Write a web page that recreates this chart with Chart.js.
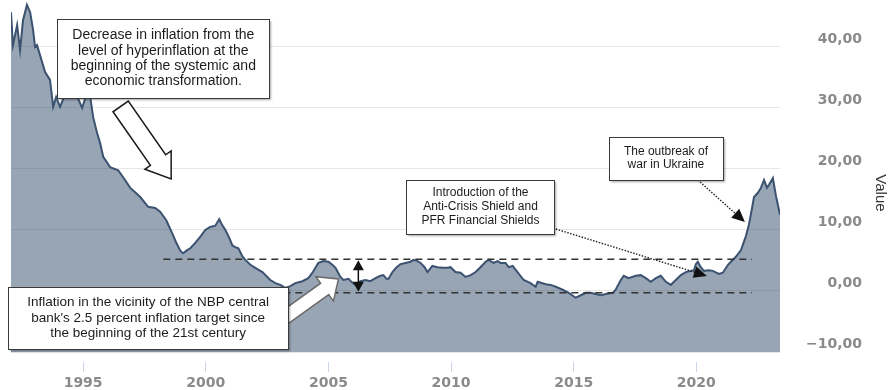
<!DOCTYPE html>
<html>
<head>
<meta charset="utf-8">
<title>Inflation in Poland</title>
<script src="https://cdn.jsdelivr.net/npm/chart.js@4.4.0/dist/chart.umd.min.js"></script>
<style>
  html, body { margin: 0; padding: 0; background: #fff; }
  #wrap { width: 888px; height: 390px; }
</style>
</head>
<body>
<div id="wrap"><canvas id="cpiChart" width="888" height="390"></canvas></div>
<script>
/* global Chart */

// CPI y/y (%): decimal year -> value
const years = [
  1992.06, 1992.14, 1992.31, 1992.43, 1992.55, 1992.71, 1992.84, 1992.96,
  1993.04, 1993.12, 1993.24, 1993.45, 1993.65, 1993.78, 1993.90,
  1994.06, 1994.22, 1994.47, 1994.71, 1994.96,
  1995.12, 1995.29, 1995.41, 1995.57, 1995.69, 1995.82,
  1996.10, 1996.43, 1996.71, 1996.92,
  1997.12, 1997.33, 1997.65, 1997.94,
  1998.14, 1998.39, 1998.63, 1998.80, 1998.96,
  1999.08, 1999.24, 1999.37, 1999.57, 1999.78, 1999.98,
  2000.18, 2000.39, 2000.55, 2000.67, 2000.80, 2000.96,
  2001.08, 2001.20, 2001.33, 2001.49, 2001.61, 2001.82,
  2002.02, 2002.31, 2002.63, 2002.84,
  2003.04, 2003.24, 2003.45, 2003.65, 2003.94,
  2004.18, 2004.35, 2004.47, 2004.59, 2004.80,
  2005.00, 2005.16, 2005.29, 2005.49, 2005.61, 2005.82, 2005.94,
  2006.10, 2006.31, 2006.51, 2006.71, 2006.92,
  2007.12, 2007.24, 2007.37, 2007.45, 2007.61, 2007.78, 2007.94,
  2008.14, 2008.35, 2008.47, 2008.63, 2008.76, 2008.92,
  2009.04, 2009.24, 2009.45, 2009.65, 2009.86, 2009.98,
  2010.18, 2010.39, 2010.59, 2010.80,
  2011.00, 2011.20, 2011.41, 2011.53, 2011.73, 2011.90,
  2012.02, 2012.22, 2012.35, 2012.51, 2012.71, 2012.96,
  2013.24, 2013.45, 2013.53, 2013.86,
  2014.06, 2014.27, 2014.55, 2014.80,
  2015.08, 2015.29, 2015.49, 2015.69,
  2016.10, 2016.31, 2016.59, 2016.71, 2016.92,
  2017.04, 2017.24, 2017.53, 2017.73, 2017.94,
  2018.14, 2018.35, 2018.55, 2018.76, 2018.96,
  2019.16, 2019.37, 2019.57, 2019.78, 2019.90, 2019.98,
  2020.06, 2020.18, 2020.31, 2020.51, 2020.67, 2020.92,
  2021.08, 2021.29, 2021.41, 2021.61, 2021.82,
  2022.02, 2022.14, 2022.27, 2022.35, 2022.51, 2022.63, 2022.76, 2022.88, 2022.96,
  2023.12, 2023.24, 2023.41
];

const cpi = [
  45.7, 40.3, 43.6, 39.5, 44.4, 46.9, 45.7, 42.8,
  40.0, 40.3, 38.7, 35.9, 34.6, 30.2, 31.8,
  30.2, 31.8, 32.1, 32.3, 30.0,
  32.0, 31.8, 28.5, 25.9, 24.3, 22.0,
  20.3, 19.8, 18.2, 16.9,
  16.2, 15.4, 13.8, 13.6,
  13.0, 11.6, 9.5, 7.9, 6.6,
  6.2, 6.7, 7.0, 7.9, 8.9, 10.0,
  10.5, 10.7, 11.8, 10.8, 10.0, 8.7,
  7.5, 7.2, 7.0, 5.7, 5.1, 4.3,
  3.8, 3.1, 1.8, 1.3,
  1.0, 0.5, 0.8, 1.3, 1.6,
  2.1, 3.0, 3.8, 4.6, 4.9,
  4.8, 4.3, 3.8, 2.3, 1.8, 2.0, 1.5,
  1.0, 1.6, 1.8, 1.6, 2.1,
  2.5, 2.6, 2.0, 2.0, 3.1, 3.9, 4.4,
  4.6, 4.8, 5.1, 4.9, 4.6, 3.9,
  3.1, 4.1, 3.9, 3.8, 3.8, 3.9,
  3.1, 3.0, 2.3, 2.6,
  3.1, 3.9, 4.8, 5.1, 4.6, 4.9,
  4.6, 4.6, 3.9, 4.1, 3.1, 1.8,
  1.3, 0.7, 1.5, 1.1,
  1.0, 0.7, 0.2, -0.3,
  -1.1, -0.7, -0.3, -0.3,
  -0.7, -0.5, -0.3, 0.2, 1.8,
  2.5, 2.1, 2.5, 2.6, 2.1,
  1.5, 2.1, 2.5, 1.5, 1.0,
  1.8, 2.6, 3.1, 3.3, 3.4, 4.4,
  4.8, 3.9, 3.3, 3.4, 3.3, 2.8,
  3.0, 4.3, 4.8, 5.6, 6.7,
  9.0, 10.8, 13.6, 15.4, 16.1, 16.9, 18.2, 16.9, 17.4,
  18.5, 15.7, 12.5
];

// dashed band around the NBP target
const bandYears = [1998.27, 2022.27];
const bandUpper = 5.2;
const bandLower = -0.3;
const bandArrowYear = 2006.22;

const xTicks = [1995, 2000, 2005, 2010, 2015, 2020];
const yTicks = [-10, 0, 10, 20, 30, 40];
const xRange = [1992.06, 2023.41];
const yRange = [-10, 47.7];

// annotation boxes, anchored in data coordinates (year, value)
const notes = [
  { at: [1998.27, 38.1], w: 212, h: 79, size: 14, lh: 15.3,
    lines: ["Decrease in inflation from the", "level of hyperinflation at the",
            "beginning of the systemic and", "economic transformation."] },
  { at: [1997.65, -4.43], w: 280, h: 62, size: 13.5, lh: 15.5,
    lines: ["Inflation in the vicinity of the NBP central",
            "bank's 2.5 percent inflation target since",
            "the beginning of the 21st century"] },
  { at: [2011.20, 13.77], w: 148, h: 54, size: 12, lh: 14,
    lines: ["Introduction of the", "Anti-Crisis Shield and", "PFR Financial Shields"] },
  { at: [2018.76, 21.72], w: 114, h: 43, size: 12, lh: 13,
    lines: ["The outbreak of", "war in Ukraine"] }
];

(() => {
  "use strict";

  const tickFont = { family: "'DejaVu Sans', sans-serif", weight: "bold", size: 14 };
  const tickColor = "#8a8a8a";
  const boxFont = "'Liberation Sans', Arial, sans-serif";

  const fmt = (v) => v.toFixed(2).replace(".", ",").replace("-", "\u2212");

  const toPx = (chart, x, y) => ({
    x: chart.scales.x.getPixelForValue(x),
    y: chart.scales.y.getPixelForValue(y),
  });

  // big outlined block arrow
  const blockArrow = (ctx, a, b, shaft, head, headLen, stroke) => {
    const dx = b.x - a.x, dy = b.y - a.y;
    const len = Math.hypot(dx, dy);
    const ux = dx / len, uy = dy / len;
    const nx = -uy, ny = ux;
    const bx = b.x - ux * headLen, by = b.y - uy * headLen;
    const pts = [
      [a.x + nx * shaft, a.y + ny * shaft],
      [bx + nx * shaft, by + ny * shaft],
      [bx + nx * head, by + ny * head],
      [b.x, b.y],
      [bx - nx * head, by - ny * head],
      [bx - nx * shaft, by - ny * shaft],
      [a.x - nx * shaft, a.y - ny * shaft],
    ];
    ctx.beginPath();
    pts.forEach(([x, y], i) => (i ? ctx.lineTo(x, y) : ctx.moveTo(x, y)));
    ctx.closePath();
    ctx.fillStyle = "#fff";
    ctx.fill();
    ctx.lineWidth = 1.5;
    ctx.strokeStyle = stroke;
    ctx.stroke();
  };

  const headAt = (ctx, tip, ux, uy, len, half) => {
    const bx = tip.x - ux * len, by = tip.y - uy * len;
    ctx.beginPath();
    ctx.moveTo(tip.x, tip.y);
    ctx.lineTo(bx - uy * half, by + ux * half);
    ctx.lineTo(bx + uy * half, by - ux * half);
    ctx.closePath();
    ctx.fill();
  };

  // thin dotted pointer with a filled head
  const dottedArrow = (ctx, a, b) => {
    const dx = b.x - a.x, dy = b.y - a.y;
    const len = Math.hypot(dx, dy);
    const ux = dx / len, uy = dy / len;
    ctx.save();
    ctx.strokeStyle = "#222";
    ctx.fillStyle = "#111";
    ctx.lineWidth = 1.4;
    ctx.setLineDash([1.5, 1.5]);
    ctx.beginPath();
    ctx.moveTo(a.x, a.y);
    ctx.lineTo(b.x - ux * 10, b.y - uy * 10);
    ctx.stroke();
    ctx.setLineDash([]);
    headAt(ctx, b, ux, uy, 13, 6);
    ctx.restore();
  };

  const noteBox = (ctx, c, n) => {
    const x = Math.round(c.x - n.w / 2) + 0.5;
    const y = Math.round(c.y - n.h / 2) + 0.5;
    ctx.save();
    ctx.shadowColor = "rgba(0,0,0,0.35)";
    ctx.shadowOffsetX = 1.5;
    ctx.shadowOffsetY = 1.5;
    ctx.shadowBlur = 2;
    ctx.fillStyle = "#fff";
    ctx.fillRect(x, y, n.w, n.h);
    ctx.restore();
    ctx.strokeStyle = "#3a3a3a";
    ctx.lineWidth = 1;
    ctx.strokeRect(x, y, n.w, n.h);
    ctx.fillStyle = "#1c1c1c";
    ctx.font = `${n.size}px ${boxFont}`;
    ctx.textAlign = "center";
    ctx.textBaseline = "middle";
    const top = c.y - ((n.lines.length - 1) * n.lh) / 2;
    n.lines.forEach((t, i) => ctx.fillText(t, c.x, top + i * n.lh));
  };

  const annotations = {
    id: "annotations",
    afterDatasetsDraw(chart) {
      const ctx = chart.ctx;
      ctx.save();

      // double arrow across the band
      const up = toPx(chart, bandArrowYear, bandUpper);
      const lo = toPx(chart, bandArrowYear, bandLower);
      ctx.strokeStyle = "#111";
      ctx.fillStyle = "#111";
      ctx.lineWidth = 1.5;
      ctx.beginPath();
      ctx.moveTo(up.x, up.y + 8);
      ctx.lineTo(lo.x, lo.y - 8);
      ctx.stroke();
      headAt(ctx, { x: up.x, y: up.y + 1 }, 0, -1, 10, 5.5);
      headAt(ctx, { x: lo.x, y: lo.y - 1 }, 0, 1, 10, 5.5);

      // block arrows
      blockArrow(ctx, toPx(chart, 1996.53, 30.25), toPx(chart, 1998.59, 18.36), 9.3, 16, 23, "#1a1a1a");
      blockArrow(ctx, toPx(chart, 2003.0, -5.0), toPx(chart, 2005.41, 1.97), 7, 15, 17, "#6b6b6b");

      // dotted pointers
      dottedArrow(ctx, toPx(chart, 2014.27, 10.16), toPx(chart, 2020.43, 2.46));
      dottedArrow(ctx, toPx(chart, 2020.06, 18.2), toPx(chart, 2021.98, 11.31));

      notes.forEach((n) => noteBox(ctx, toPx(chart, n.at[0], n.at[1]), n));

      // axis title on the right
      ctx.save();
      ctx.translate(chart.width - 8, 193);
      ctx.rotate(Math.PI / 2);
      ctx.font = `15px ${boxFont}`;
      ctx.fillStyle = "#333";
      ctx.textAlign = "center";
      ctx.textBaseline = "middle";
      ctx.fillText("Value", 0, 0);
      ctx.restore();

      ctx.restore();
    },
  };

  const bandLine = (v) => ({
    data: bandYears.map((x) => ({ x, y: v })),
    borderColor: "#333",
    borderWidth: 1.6,
    borderDash: [7, 5],
    pointRadius: 0,
    fill: false,
    order: 0,
  });

  const ctx = document.getElementById("cpiChart").getContext("2d");
  new Chart(ctx, {
    type: "line",
    data: {
      datasets: [
        bandLine(bandUpper),
        bandLine(bandLower),
        {
          data: years.map((x, i) => ({ x, y: cpi[i] })),
          borderColor: "#3b5270",
          borderWidth: 2,
          backgroundColor: "rgba(50, 75, 108, 0.5)",
          fill: "start",
          pointRadius: 0,
          tension: 0,
          order: 1,
        },
      ],
    },
    options: {
      responsive: false,
      animation: false,
      devicePixelRatio: 1,
      // right padding leaves room for the "Value" title drawn by the plugin
      layout: { padding: { left: 11, top: 0, right: 26, bottom: 0 } },
      plugins: { legend: { display: false }, tooltip: { enabled: false } },
      scales: {
        x: {
          type: "linear",
          position: "bottom",
          min: xRange[0],
          max: xRange[1],
          afterBuildTicks: (s) => { s.ticks = xTicks.map((value) => ({ value })); },
          afterFit: (s) => { s.height = 38; s.paddingLeft = 0; s.paddingRight = 0; },
          border: { display: false },
          grid: {
            drawOnChartArea: false,
            tickLength: 20,
            tickColor: "#ccd6eb",
            tickWidth: 1,
            tickBorderDash: [0, 10, 10, 0],
          },
          ticks: {
            font: tickFont,
            color: tickColor,
            padding: 3,
            maxRotation: 0,
            callback: (v) => String(v),
          },
        },
        y: {
          position: "right",
          min: yRange[0],
          max: yRange[1],
          afterBuildTicks: (s) => { s.ticks = yTicks.map((value) => ({ value })); },
          afterFit: (s) => { s.width = 82; s.paddingTop = 0; s.paddingBottom = 0; },
          border: { display: false },
          grid: { color: "#e6e6e6", lineWidth: 1, drawTicks: false },
          ticks: {
            font: tickFont,
            color: tickColor,
            padding: 26,
            crossAlign: "far",
            labelOffset: -8,
            callback: (v) => fmt(v),
          },
        },
      },
    },
    plugins: [annotations],
  });
})();
</script>
</body>
</html>
